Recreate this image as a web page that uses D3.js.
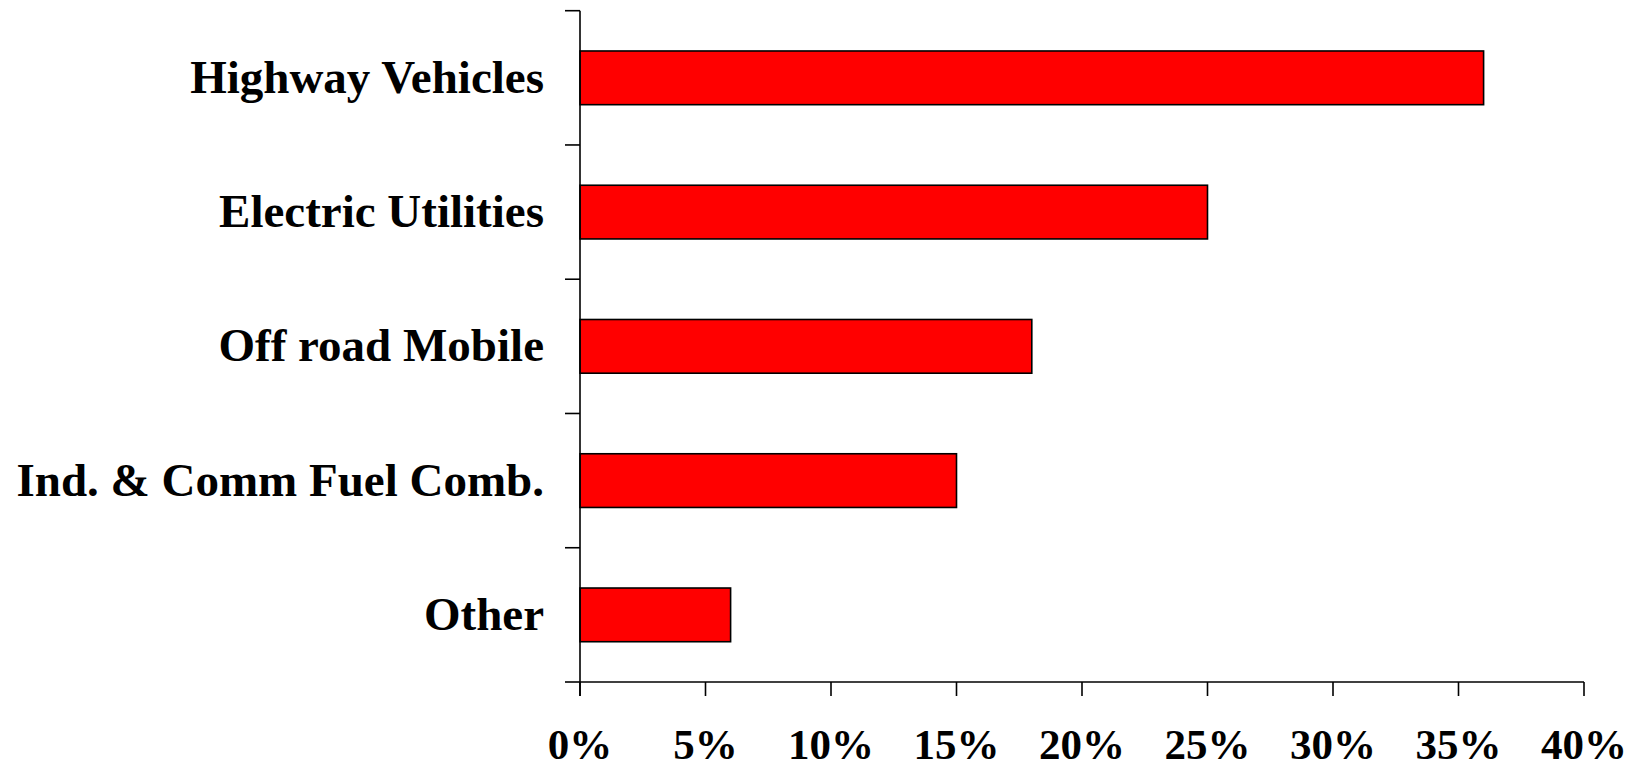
<!DOCTYPE html>
<html>
<head>
<meta charset="utf-8">
<script src="https://cdn.jsdelivr.net/npm/d3@7"></script>
<style>
  html, body { margin: 0; padding: 0; background: #ffffff; }
  svg { display: block; }
  .lbl { font-family: "Liberation Serif", "Times New Roman", serif; font-weight: bold; fill: #000; }
</style>
</head>
<body>
<svg id="chart" width="1645" height="769"></svg>
<script>
// Emission sources and their share (%)
const categories = ["Highway Vehicles", "Electric Utilities", "Off road Mobile", "Ind. & Comm Fuel Comb.", "Other"];
const shares = [36, 25, 18, 15, 6];
const xTicks = [0, 5, 10, 15, 20, 25, 30, 35, 40];

const W = 1645, H = 769;
const plot = { left: 580, right: 1584, top: 10.7, bottom: 682 };

const svg = d3.select("#chart");

const x = d3.scaleLinear().domain([0, 40]).range([plot.left, plot.right]);
const y = d3.scaleBand().domain(categories).range([plot.top, plot.bottom])
  .paddingInner(0.6).paddingOuter(0.3);

// bars
svg.append("g").selectAll("rect")
  .data(categories.map((c, i) => ({ c, v: shares[i] })))
  .join("rect")
  .attr("x", x(0))
  .attr("y", d => y(d.c))
  .attr("width", d => x(d.v) - x(0))
  .attr("height", y.bandwidth())
  .attr("fill", "#ff0000")
  .attr("stroke", "#000")
  .attr("stroke-width", 1.6);

const axisStroke = 1.6;
const tickLen = 14;

// vertical axis line with ticks at band boundaries
const yAxis = svg.append("g");
yAxis.append("line")
  .attr("x1", plot.left).attr("x2", plot.left)
  .attr("y1", plot.top).attr("y2", plot.bottom + tickLen)
  .attr("stroke", "#000").attr("stroke-width", axisStroke);
const step = y.step();
const boundaries = d3.range(categories.length + 1).map(i => plot.top + i * step);
yAxis.selectAll("line.tick").data(boundaries).join("line")
  .attr("class", "tick")
  .attr("x1", plot.left - tickLen - 1).attr("x2", plot.left)
  .attr("y1", d => d).attr("y2", d => d)
  .attr("stroke", "#000").attr("stroke-width", axisStroke);

// category labels
svg.append("g").selectAll("text")
  .data(categories).join("text")
  .attr("class", "lbl")
  .attr("x", plot.left - 36)
  .attr("y", d => y(d) + y.bandwidth() / 2 + 15)
  .attr("text-anchor", "end")
  .style("font-size", "47px")
  .text(d => d);

// horizontal axis
const xAxis = svg.append("g");
xAxis.append("line")
  .attr("x1", plot.left).attr("x2", plot.right)
  .attr("y1", plot.bottom).attr("y2", plot.bottom)
  .attr("stroke", "#000").attr("stroke-width", axisStroke);
xAxis.selectAll("line.tick").data(xTicks).join("line")
  .attr("class", "tick")
  .attr("x1", d => x(d)).attr("x2", d => x(d))
  .attr("y1", plot.bottom).attr("y2", plot.bottom + tickLen)
  .attr("stroke", "#000").attr("stroke-width", axisStroke);
xAxis.selectAll("text").data(xTicks).join("text")
  .attr("class", "lbl")
  .attr("x", d => x(d))
  .attr("y", plot.bottom + 77)
  .attr("text-anchor", "middle")
  .style("font-size", "43px")
  .text(d => d + "%");
</script>
</body>
</html>
